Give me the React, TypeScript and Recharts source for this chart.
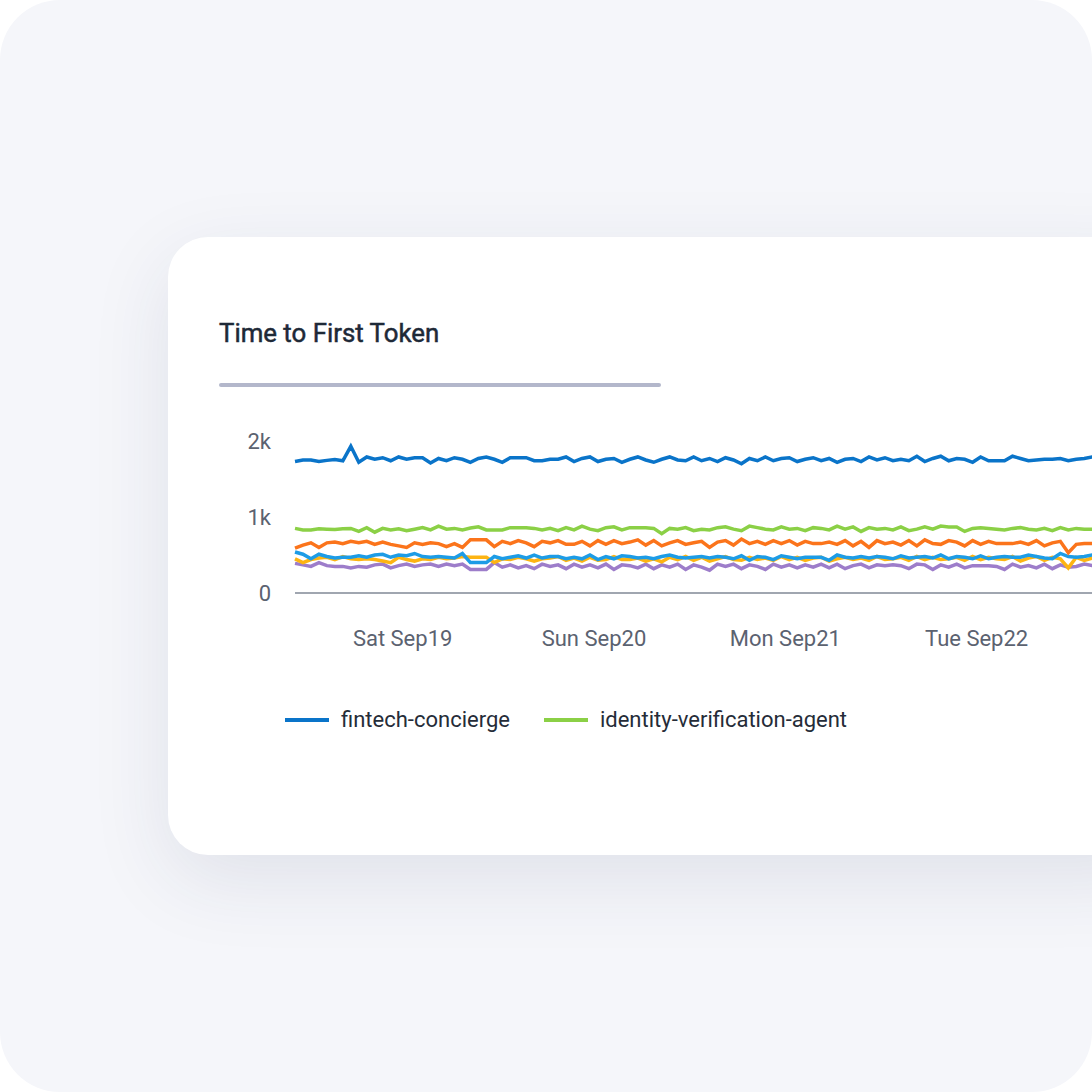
import React from "react";
import { LineChart, Line, XAxis, YAxis, Legend } from "recharts";

const START_HOUR = 10.5; // hours after Fri Sep18 00:00
const TICK_HOURS = [24, 48, 72, 96];
const TICK_LABELS = ["Sat Sep19", "Sun Sep20", "Mon Sep21", "Tue Sep22"];
const Y_TICKS = [0, 1000, 2000];
const Y_LABELS = ["0", "1k", "2k"];

const SERIES_NAMES = [
  "fintech-concierge",
  "identity-verification-agent",
  "payments-agent",
  "fraud-monitor",
  "support-assistant",
  "kyc-agent",
];
const SERIES_COLORS = ["#0a74c9", "#8bd046", "#fb741b", "#1d9ce6", "#fdb412", "#9d7dca"];
const LEGEND_NAMES = ["fintech-concierge", "identity-verification-agent"];

const fintech = [
  1730, 1750, 1750, 1730, 1745, 1755, 1740, 1930, 1720, 1790,
  1760, 1780, 1740, 1790, 1760, 1780, 1780, 1710, 1770, 1740,
  1780, 1760, 1720, 1770, 1790, 1760, 1720, 1780, 1780, 1780,
  1740, 1740, 1760, 1760, 1790, 1730, 1770, 1790, 1730, 1760,
  1770, 1720, 1760, 1790, 1750, 1720, 1760, 1790, 1750, 1740,
  1790, 1740, 1770, 1730, 1780, 1750, 1700, 1770, 1740, 1790,
  1740, 1770, 1780, 1730, 1760, 1780, 1740, 1770, 1720, 1760,
  1770, 1730, 1790, 1750, 1780, 1740, 1760, 1740, 1800, 1730,
  1770, 1800, 1740, 1770, 1760, 1720, 1790, 1740, 1740, 1740,
  1800, 1770, 1740, 1750, 1760, 1760, 1770, 1740, 1760, 1770,
  1790, 1750, 1770, 1780, 1740, 1760, 1720, 1740, 1730,
];
const identity = [
  850, 830, 830, 845, 840, 835, 845, 850, 810, 860,
  800, 850, 830, 845, 820, 840, 860, 830, 880, 840,
  850, 830, 855, 870, 830, 830, 830, 860, 860, 860,
  850, 830, 850, 820, 860, 830, 880, 840, 820, 860,
  870, 830, 860, 860, 860, 850, 780, 850, 840, 860,
  820, 840, 830, 860, 870, 840, 820, 880, 860, 840,
  830, 870, 840, 850, 820, 860, 850, 830, 880, 840,
  870, 810, 860, 840, 850, 830, 870, 820, 840, 870,
  840, 880, 870, 870, 810, 850, 860, 850, 840, 830,
  850, 860, 840, 830, 850, 820, 860, 830, 850, 840,
  840, 870, 850, 840, 860, 860, 850, 870, 840,
];
const payments = [
  590, 630, 660, 600, 660, 670, 650, 680, 660, 680,
  640, 670, 640, 620, 600, 660, 640, 660, 650, 610,
  650, 600, 700, 700, 700, 610, 680, 650, 690, 660,
  610, 680, 660, 690, 640, 640, 680, 620, 690, 640,
  690, 650, 670, 700, 630, 690, 620, 660, 690, 640,
  660, 680, 600, 670, 690, 630, 710, 650, 680, 640,
  690, 650, 690, 630, 680, 650, 650, 670, 640, 690,
  620, 680, 600, 690, 650, 670, 630, 690, 620, 700,
  650, 640, 690, 670, 620, 690, 640, 680, 650, 650,
  650, 670, 640, 690, 620, 660, 680, 530, 640, 650,
  650, 650, 660, 650, 650, 660, 650, 660, 660,
];
const fraud = [
  540, 510, 450, 510, 480, 460, 470, 470, 490, 470,
  500, 510, 470, 500, 490, 520, 480, 470, 480, 470,
  460, 520, 400, 400, 400, 480, 450, 470, 490, 460,
  500, 460, 480, 480, 450, 470, 450, 500, 440, 480,
  450, 490, 480, 460, 470, 450, 480, 500, 470, 460,
  470, 480, 460, 480, 470, 450, 490, 430, 480, 470,
  440, 490, 470, 450, 470, 470, 470, 430, 500, 470,
  460, 480, 460, 480, 470, 450, 490, 460, 470, 480,
  460, 500, 450, 480, 470, 450, 490, 450, 470, 480,
  470, 470, 500, 480, 460, 450, 520, 480, 470, 480,
  500, 480, 480, 520, 470, 470, 470, 470, 470,
];
const support = [
  450, 400, 440, 460, 470, 440, 480, 450, 440, 450,
  440, 420, 400, 470, 440, 420, 450, 440, 470, 450,
  460, 480, 470, 470, 470, 400, 450, 440, 470, 450,
  420, 450, 460, 480, 430, 460, 420, 470, 430, 440,
  480, 440, 440, 460, 420, 450, 410, 470, 440, 480,
  430, 470, 420, 450, 480, 440, 430, 470, 440, 460,
  430, 480, 440, 470, 430, 460, 470, 420, 450, 470,
  440, 460, 430, 480, 440, 450, 470, 430, 480, 440,
  470, 440, 450, 470, 430, 480, 440, 470, 450, 440,
  480, 420, 460, 480, 430, 470, 450, 330, 470, 430,
  460, 450, 470, 440, 440, 460, 450, 440, 450,
];
const kyc = [
  390, 370, 350, 400, 360, 350, 350, 330, 350, 340,
  370, 380, 330, 360, 380, 350, 370, 380, 350, 380,
  360, 380, 310, 310, 310, 400, 340, 370, 330, 360,
  320, 380, 350, 370, 320, 380, 340, 370, 330, 380,
  310, 370, 360, 330, 380, 320, 370, 340, 380, 310,
  370, 340, 300, 380, 350, 380, 320, 370, 350, 310,
  380, 340, 370, 330, 370, 340, 380, 330, 380, 320,
  360, 380, 330, 370, 360, 370, 360, 320, 380, 370,
  310, 370, 340, 380, 330, 360, 360, 360, 350, 310,
  380, 340, 360, 330, 380, 320, 370, 340, 350, 380,
  360, 330, 370, 320, 310, 360, 360, 380, 370,
];

const SERIES_VALUES = [fintech, identity, payments, fraud, support, kyc];

const data = fintech.map((_, i) => {
  const row: Record<string, number> = { t: START_HOUR + i };
  SERIES_NAMES.forEach((name, s) => {
    row[name] = SERIES_VALUES[s][i];
  });
  return row;
});

const FONT = "Roboto, 'Noto Sans', sans-serif";

const LegendContent = (props: any) => {
  const all = (props.payload || []) as any[];
  const items = LEGEND_NAMES.map((n) => all.find((p) => p.value === n)).filter(Boolean);
  return (
    <div style={{ display: "flex", alignItems: "center", height: 30, fontFamily: FONT }}>
      {items.map((it: any, idx: number) => (
        <div
          key={it.value}
          style={{ display: "flex", alignItems: "center", marginRight: idx < items.length - 1 ? 34 : 0 }}
        >
          <span
            style={{ display: "inline-block", width: 44, height: 4, background: it.color, marginRight: 12 }}
          />
          <span style={{ fontSize: 22, color: "#252c38", lineHeight: "30px", whiteSpace: "nowrap" }}>
            {it.value}
          </span>
        </div>
      ))}
    </div>
  );
};

export default function App() {
  return (
    <div
      style={{
        position: "absolute",
        left: 0,
        top: 0,
        width: 1092,
        height: 1092,
        overflow: "hidden",
        background: "#ffffff",
        fontFamily: FONT,
      }}
    >
      <div
        style={{
          position: "absolute",
          left: 0,
          top: 0,
          width: 1092,
          height: 1092,
          borderRadius: 60,
          background: "#f5f6fa",
          overflow: "hidden",
        }}
      >
        <div
          style={{
            position: "absolute",
            left: 168,
            top: 237,
            width: 1000,
            height: 618,
            borderRadius: 40,
            background: "#ffffff",
            boxShadow: "0 24px 80px rgba(40, 50, 90, 0.10)",
          }}
        />
        <div
          style={{
            position: "absolute",
            left: 219,
            top: 318,
            fontSize: 25.8,
            lineHeight: "30px",
            fontWeight: 400,
            WebkitTextStroke: "0.5px #1e2937",
            color: "#1e2937",
            whiteSpace: "nowrap",
          }}
        >
          Time to First Token
        </div>
        <div
          style={{
            position: "absolute",
            left: 219,
            top: 383,
            width: 442,
            height: 4,
            borderRadius: 2,
            background: "#b3b7cb",
          }}
        />
        <div style={{ position: "absolute", left: 219, top: 421 }}>
          <LineChart
            width={937}
            height={262}
            data={data}
            margin={{ top: 20, right: 0, bottom: 0, left: 0 }}
          >
            <XAxis
              dataKey="t"
              type="number"
              domain={[START_HOUR, START_HOUR + fintech.length - 1]}
              ticks={TICK_HOURS}
              tickFormatter={(v: number) => TICK_LABELS[TICK_HOURS.indexOf(v)] ?? ""}
              axisLine={{ stroke: "#a0a6b0", strokeWidth: 2 }}
              tickLine={false}
              tickSize={0}
              tickMargin={37}
              height={60}
              tick={{ fill: "#5b6270", fontSize: 22, fontFamily: FONT }}
              interval={0}
            />
            <YAxis
              type="number"
              domain={[0, 2000]}
              ticks={Y_TICKS}
              tickFormatter={(v: number) => Y_LABELS[Y_TICKS.indexOf(v)] ?? ""}
              axisLine={false}
              tickLine={false}
              tickSize={0}
              tickMargin={24}
              width={76}
              tick={{ fill: "#5b6270", fontSize: 22, fontFamily: FONT }}
              interval={0}
            />
            <Legend
              verticalAlign="bottom"
              align="left"
              content={<LegendContent />}
              wrapperStyle={{ left: 66, top: 284, height: 30, width: 800 }}
            />
            {SERIES_NAMES.map((name, s) => (
              <Line
                key={name}
                type="linear"
                dataKey={name}
                name={name}
                stroke={SERIES_COLORS[s]}
                strokeWidth={3.5}
                dot={false}
                activeDot={false}
                isAnimationActive={false}
              />
            )).reverse()}
          </LineChart>
        </div>
      </div>
    </div>
  );
}
